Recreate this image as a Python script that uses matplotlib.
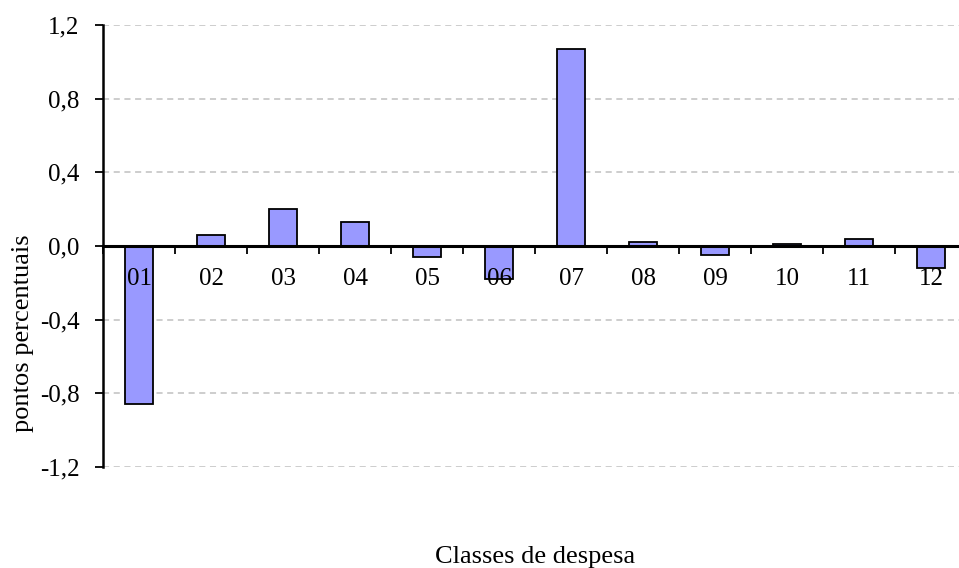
import matplotlib
matplotlib.use("Agg")
import matplotlib.pyplot as plt
import numpy as np

categories = ["01", "02", "03", "04", "05", "06", "07", "08", "09", "10", "11", "12"]
values = [-0.86, 0.06, 0.20, 0.13, -0.06, -0.18, 1.07, 0.02, -0.05, 0.01, 0.04, -0.12]
y_ticks = [-1.2, -0.8, -0.4, 0.0, 0.4, 0.8, 1.2]

plt.rcParams["font.family"] = ["Liberation Serif", "DejaVu Serif"]

W, H = 959, 568
fig = plt.figure(figsize=(W / 100, H / 100), dpi=100)
ax = fig.add_axes([103 / W, 1 - 467 / H, (967 - 103) / W, (467 - 25) / H])

x = np.arange(len(categories))
ax.bar(x, values, width=0.39, color="#9999FF", edgecolor="black", linewidth=1.3, zorder=2)

# dashed grid behind the bars (tick labels stay on top of the bars)
for v in y_ticks:
    if v != 0:
        ax.axhline(v, color="#c0c0c0", linestyle=(0, (4, 3)), linewidth=1.1, zorder=1)

ax.set_xlim(-0.5, len(categories) - 0.5)
ax.set_ylim(-1.2, 1.2)

# spines: left axis plus a zero line acting as the category axis
ax.spines["top"].set_visible(False)
ax.spines["right"].set_visible(False)
ax.spines["bottom"].set_position(("data", 0))
ax.spines["bottom"].set_linewidth(2.2)
ax.spines["left"].set_linewidth(1.8)
ax.spines["bottom"].set_zorder(3)

# tick marks at category boundaries, labels at centres
ax.set_xticks(np.arange(-0.5, len(categories), 1.0))
ax.set_xticklabels([])
ax.tick_params(axis="x", which="major", direction="out", length=6, width=1.3)
ax.set_xticks(x, minor=True)
ax.set_xticklabels(categories, minor=True, fontsize=18)
ax.tick_params(axis="x", which="minor", length=0, pad=16)

ax.set_yticks(y_ticks)
ax.set_yticklabels([f"{v:.1f}".replace(".", ",") for v in y_ticks], fontsize=18)
ax.tick_params(axis="y", direction="out", length=6, width=1.3, pad=11)
ax.set_axisbelow(False)
ax.xaxis.set_zorder(4)

fig.text(535 / W, 1 - 557 / H, "Classes de despesa", ha="center", va="center", fontsize=19)
fig.text(23 / W, 1 - 333 / H, "pontos percentuais", ha="center", va="center",
         rotation=90, fontsize=19)

fig.savefig("out.png", dpi=100)
